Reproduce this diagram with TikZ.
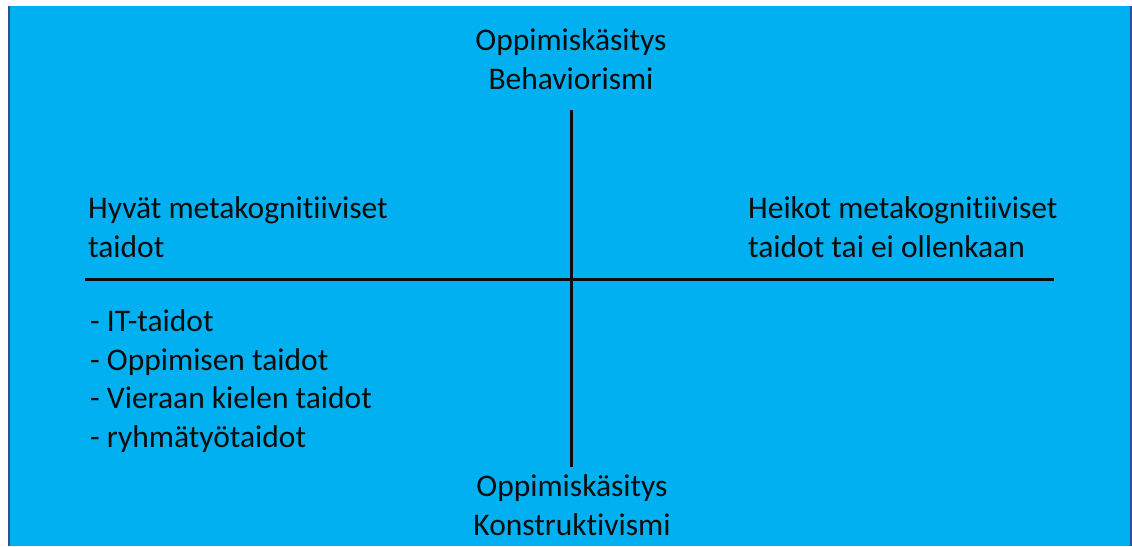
\documentclass[tikz,border=0pt]{standalone}
\usepackage{fontspec}
\setmainfont{Carlito}[Ligatures=NoCommon]
\usetikzlibrary{positioning}
\definecolor{skyfill}{HTML}{00B0F0}
\definecolor{frameblue}{HTML}{2F4F8F}
\definecolor{inkdark}{HTML}{0D0D0D}
\tikzstyle{txt} = [inner sep=0pt, align=left, text=inkdark, font=\fontsize{31.5}{38.5}\selectfont]
\tikzstyle{axis} = [line width=3pt, inkdark]

\begin{document}
\begin{tikzpicture}[x=1pt,y=-1pt]
    \useasboundingbox (0,0) rectangle (1132,546);
    \fill [skyfill] (8,6) rectangle (1132,546);
    \draw [frameblue, line width=2pt] (9,6) -- (9,546);
    \draw [frameblue, line width=2pt] (1131,6) -- (1131,546);

    % base anchor sits on the last line
    \node [txt, align=center, anchor=base] (behav) at (571,89) {Oppimiskäsitys\\Behaviorismi};
    \node [txt, align=center, anchor=base] (konstr) at (572,535) {Oppimiskäsitys\\Konstruktivismi};
    \node [txt, anchor=base west] (good) at (88,257) {Hyvät metakognitiiviset\\taidot};
    \node [txt, anchor=base west] (weak) at (748,257) {Heikot metakognitiiviset\\taidot tai ei ollenkaan};
    \node [txt, anchor=base west] (skills) at (90,447) {- IT-taidot\\- Oppimisen taidot\\- Vieraan kielen taidot\\- ryhmätyötaidot};

    \coordinate (vtop) at (571,110);
    \coordinate (vbot) at (571,467);
    \coordinate (hleft) at (85,279);
    \coordinate (hright) at (1054,279);
    \draw [axis] (vtop) -- (vbot);
    \draw [axis] (hleft) -- (hright);
\end{tikzpicture}
\end{document}
